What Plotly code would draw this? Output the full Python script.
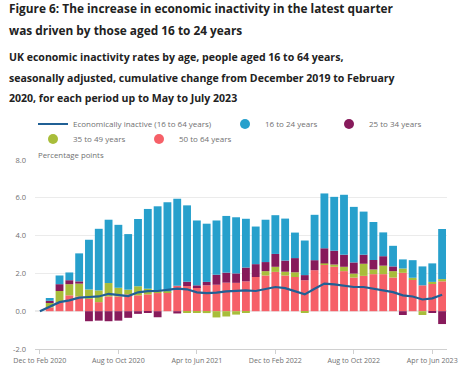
import plotly.graph_objects as go

periods = [
    "Dec to Feb 2020", "Jan to Mar 2020", "Feb to Apr 2020", "Mar to May 2020", "Apr to Jun 2020",
    "May to Jul 2020", "Jun to Aug 2020", "Jul to Sep 2020", "Aug to Oct 2020", "Sep to Nov 2020",
    "Oct to Dec 2020", "Nov to Jan 2021", "Dec to Feb 2021", "Jan to Mar 2021", "Feb to Apr 2021",
    "Mar to May 2021", "Apr to Jun 2021", "May to Jul 2021", "Jun to Aug 2021", "Jul to Sep 2021",
    "Aug to Oct 2021", "Sep to Nov 2021", "Oct to Dec 2021", "Nov to Jan 2022", "Dec to Feb 2022",
    "Jan to Mar 2022", "Feb to Apr 2022", "Mar to May 2022", "Apr to Jun 2022", "May to Jul 2022",
    "Jun to Aug 2022", "Jul to Sep 2022", "Aug to Oct 2022", "Sep to Nov 2022", "Oct to Dec 2022",
    "Nov to Jan 2023", "Dec to Feb 2023", "Jan to Mar 2023", "Feb to Apr 2023", "Mar to May 2023",
    "Apr to Jun 2023", "May to Jul 2023",
]

age_50_64 = [0.00, 0.20, 0.48, 0.84, 0.78, 0.65, 0.48, 0.78, 0.78, 0.89,
             0.84, 0.89, 0.96, 1.01, 1.35, 1.33, 1.28, 1.37, 1.40, 1.51,
             1.50, 1.58, 1.81, 1.89, 2.08, 1.89, 1.81, 1.64, 2.17, 2.46,
             2.35, 2.12, 1.78, 1.87, 1.96, 1.96, 1.78, 2.03, 1.67, 1.37,
             1.46, 1.58]
age_35_49 = [0.00, 0.25, 0.59, 0.59, 0.68, 0.50, 0.62, 0.71, 0.46, 0.25,
             0.48, 0.30, 0.14, 0.05, 0.00, -0.05, -0.07, -0.10, -0.33, -0.28,
             -0.18, -0.05, 0.00, 0.23, 0.27, 0.20, 0.25, -0.06, 0.00, 0.07,
             0.12, 0.23, 0.21, 0.64, 0.25, 0.45, 0.34, 0.23, 0.10, -0.20,
             0.09, 0.12]
age_25_34 = [0.00, 0.10, 0.36, 0.21, 0.12, -0.53, -0.50, -0.53, -0.50, -0.35,
             -0.14, -0.09, -0.32, 0.00, -0.12, 0.23, 0.09, 0.18, 0.53, 0.53,
             0.50, 0.73, 0.68, 0.48, 0.68, 0.59, 0.75, 0.27, 0.53, 0.80,
             0.73, 0.64, 0.59, 0.48, 0.50, 0.50, 0.25, -0.20, 0.00, 0.00,
             -0.05, -0.68]
age_16_24 = [0.00, 0.15, 0.46, 0.41, 1.48, 2.63, 3.26, 3.35, 3.33, 2.94,
             3.56, 4.22, 4.45, 4.71, 4.60, 4.04, 3.43, 3.08, 2.87, 3.00,
             2.97, 2.58, 1.99, 2.24, 2.05, 2.22, 1.35, 1.83, 2.40, 2.90,
             2.85, 3.17, 2.94, 2.28, 2.01, 1.26, 1.09, 0.48, 0.93, 1.00,
             0.98, 2.65]
inactive_16_64 = [0.00, 0.25, 0.48, 0.57, 0.72, 0.75, 0.78, 0.92, 0.87, 0.80,
                  1.00, 1.06, 1.07, 1.13, 1.19, 1.16, 1.00, 0.96, 0.98, 1.05,
                  1.07, 1.10, 1.07, 1.19, 1.28, 1.22, 1.07, 0.89, 1.19, 1.46,
                  1.42, 1.37, 1.28, 1.28, 1.19, 1.14, 1.01, 0.84, 0.78, 0.62,
                  0.68, 0.87]

tick_idx = [0, 8, 16, 24, 32, 40]
y_ticks = [-2, 0, 2, 4, 6, 8]

series = [
    ("50 to 64 years", age_50_64, "#f66068"),
    ("35 to 49 years", age_35_49, "#a8bd3a"),
    ("25 to 34 years", age_25_34, "#871a5b"),
    ("16 to 24 years", age_16_24, "#27a0cc"),
]
colors = {n: c for n, _, c in series}
line_color = "#206095"

x = list(range(len(periods)))

W, H = 465, 367
L, R, T, B = 35, 18, 160, 18
pw, ph = W - L - R, H - T - B


def px_x(p):
    return (p - L) / pw


def px_y(p):
    return (H - B - p) / ph


fig = go.Figure()
for name, vals, col in series:
    fig.add_trace(go.Bar(x=x, y=vals, name=name, marker=dict(color=col, line=dict(width=0)),
                         showlegend=False, hovertext=periods))

fig.add_trace(go.Scatter(x=x, y=inactive_16_64, mode="lines",
                         name="Economically inactive (16 to 64 years)",
                         line=dict(color=line_color, width=2.2), legend="legend",
                         legendwidth=147))

legend_spec = [
    ("16 to 24 years", "legend", 59),
    ("25 to 34 years", "legend", 59),
    ("35 to 49 years", "legend2", 61),
    ("50 to 64 years", "legend2", 61),
]
for name, lg, lw in legend_spec:
    fig.add_trace(go.Scatter(x=[None], y=[None], mode="markers", name=name,
                             marker=dict(color=colors[name], size=10, symbol="circle"),
                             legend=lg, legendwidth=lw))

grey = "#707071"
font_fam = "Open Sans"

fig.update_layout(
    width=W, height=H,
    margin=dict(l=L, r=R, t=T, b=B, autoexpand=False),
    barmode="relative", bargap=0.2,
    plot_bgcolor="white", paper_bgcolor="white",
    font=dict(family=font_fam, size=8, color=grey),
    legend=dict(orientation="h", x=px_x(33), y=px_y(109.5), xanchor="left", yanchor="top",
                font=dict(size=8, color=grey), bgcolor="rgba(0,0,0,0)", itemclick=False),
    legend2=dict(orientation="h", x=px_x(33), y=px_y(124.5), xanchor="left", yanchor="top",
                 font=dict(size=8, color=grey), bgcolor="rgba(0,0,0,0)", itemclick=False),
    xaxis=dict(range=[-0.5, len(periods) - 0.5], tickmode="array", tickvals=tick_idx,
               ticktext=[periods[i] for i in tick_idx], showgrid=False, zeroline=False,
               showline=True, linecolor="#d0d0d0", linewidth=1, ticks="outside", ticklen=4,
               tickcolor="#d0d0d0", tickfont=dict(size=7.1, color=grey)),
    yaxis=dict(range=[-2, 8], tickvals=y_ticks, ticktext=[f"{v:.1f}" for v in y_ticks],
               showgrid=True, gridcolor="#ebebeb", zeroline=True, zerolinecolor="#ebebeb",
               showline=False, tickfont=dict(size=7.5, color=grey), ticklabelstandoff=8),
)

annos = [
    ("Figure 6: The increase in economic inactivity in the latest quarter", 8, 11.85, "#222222", True, 7),
    ("was driven by those aged 16 to 24 years", 30, 11.85, "#222222", True, 7),
    ("UK economic inactivity rates by age, people aged 16 to 64 years,", 57, 10.55, "#222222", True, 7),
    ("seasonally adjusted, cumulative change from December 2019 to February", 78, 10.55, "#222222", True, 7),
    ("2020, for each period up to May to July 2023", 98, 10.55, "#222222", True, 7),
    ("Percentage points", 155, 7.8, grey, False, 36),
]
for text, yc, size, col, bold, xp in annos:
    fig.add_annotation(text=f"<b>{text}</b>" if bold else text, xref="paper", yref="paper",
                       x=px_x(xp), y=px_y(yc), xanchor="left", yanchor="middle",
                       showarrow=False, font=dict(size=size, color=col, family=font_fam))

fig.write_html("out.html", config={"displayModeBar": False},
               post_script="document.body.style.margin='0px';")
